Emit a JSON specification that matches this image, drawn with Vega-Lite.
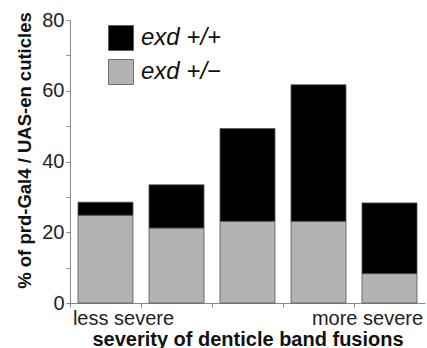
{
  "$schema": "https://vega.github.io/schema/vega-lite/v6.json",
  "width": 355,
  "height": 283,
  "autosize": {"type": "none"},
  "padding": {"left": 70, "top": 20, "right": 2, "bottom": 45},
  "background": "white",
  "config": {
    "font": "Liberation Sans",
    "view": {"stroke": null}
  },
  "data": {
    "values": [
      {"bin": 1, "genotype": "exd +/−", "order": 0, "percent": 24.8},
      {"bin": 1, "genotype": "exd +/+", "order": 1, "percent": 3.7},
      {"bin": 2, "genotype": "exd +/−", "order": 0, "percent": 21.2},
      {"bin": 2, "genotype": "exd +/+", "order": 1, "percent": 12.2},
      {"bin": 3, "genotype": "exd +/−", "order": 0, "percent": 23.1},
      {"bin": 3, "genotype": "exd +/+", "order": 1, "percent": 26.2},
      {"bin": 4, "genotype": "exd +/−", "order": 0, "percent": 23.1},
      {"bin": 4, "genotype": "exd +/+", "order": 1, "percent": 38.6},
      {"bin": 5, "genotype": "exd +/−", "order": 0, "percent": 8.3},
      {"bin": 5, "genotype": "exd +/+", "order": 1, "percent": 20.0}
    ]
  },
  "mark": {"type": "bar", "width": {"band": 0.775}, "stroke": "#555555", "strokeWidth": 0.8},
  "encoding": {
    "x": {
      "field": "bin",
      "type": "ordinal",
      "scale": {"paddingInner": 0, "paddingOuter": 0},
      "axis": {
        "title": "severity of denticle band fusions",
        "titleFont": "Liberation Sans",
        "titleFontSize": 20,
        "titleFontWeight": "bold",
        "titleColor": "#111111",
        "titlePadding": 1,
        "labelExpr": "datum.value == 1 ? 'less severe' : (datum.value == 5 ? 'more severe' : '')",
        "labelAngle": 0,
        "labelFontSize": 20,
        "labelColor": "#222222",
        "labelOverlap": false,
        "labelPadding": 1,
        "labelOffset": {"condition": {"test": "datum.value == 1", "value": 18}, "value": -22},
        "bandPosition": 0,
        "tickSize": 4,
        "tickColor": "#888888",
        "domainColor": "#888888"
      }
    },
    "y": {
      "field": "percent",
      "type": "quantitative",
      "stack": "zero",
      "scale": {"domain": [0, 80], "nice": false},
      "axis": {
        "title": "% of prd-Gal4 / UAS-en cuticles",
        "titleFontSize": 18.5,
        "titleFontWeight": "bold",
        "titleColor": "#111111",
        "titleX": -36,
        "titleY": 130,
        "values": [0, 10, 20, 30, 40, 50, 60, 70, 80],
        "labelExpr": "datum.value % 20 == 0 ? datum.label : ''",
        "labelFontSize": 20,
        "labelColor": "#222222",
        "labelPadding": 2,
        "tickSize": 4,
        "tickColor": "#888888",
        "domainColor": "#888888",
        "grid": false
      }
    },
    "color": {
      "field": "genotype",
      "type": "nominal",
      "scale": {"domain": ["exd +/+", "exd +/−"], "range": ["#000000", "#b3b3b3"]},
      "legend": {
        "title": null,
        "orient": "none",
        "legendX": 38,
        "legendY": 5,
        "padding": 0,
        "symbolType": "square",
        "symbolSize": 625,
        "symbolStrokeColor": "#555555",
        "symbolStrokeWidth": 0.8,
        "labelFontSize": 24,
        "labelFontStyle": "italic",
        "labelColor": "#111111",
        "labelOffset": 7,
        "rowPadding": 4
      }
    },
    "order": {"field": "order", "type": "quantitative"}
  }
}
